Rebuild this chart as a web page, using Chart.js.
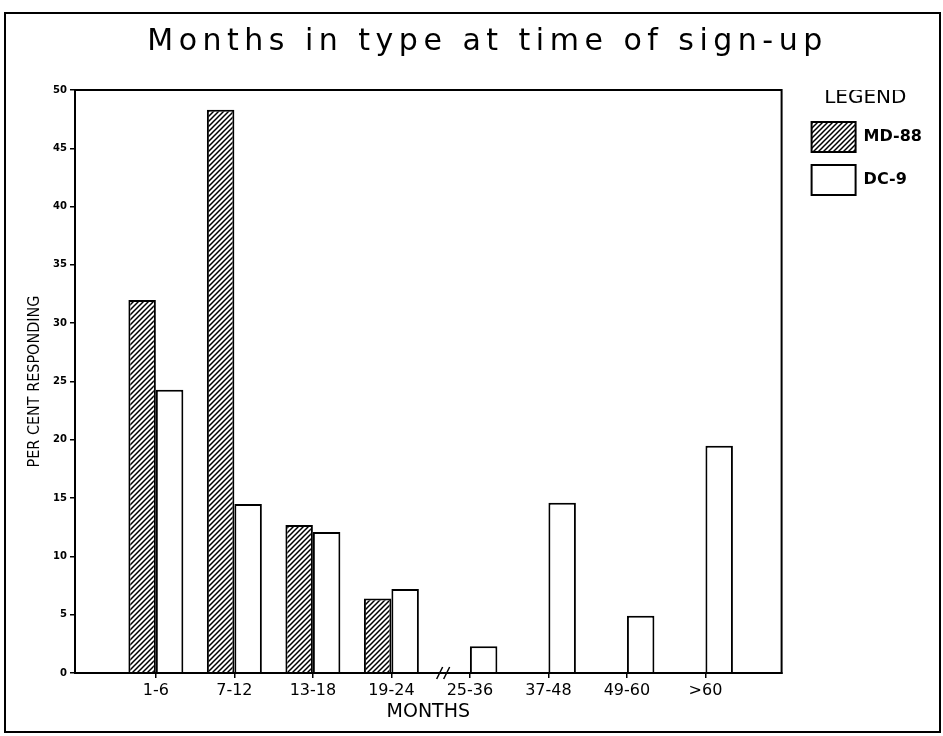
<!DOCTYPE html>
<html>
<head>
<meta charset="utf-8">
<script src="https://cdn.jsdelivr.net/npm/chart.js@4.4.1/dist/chart.umd.min.js"></script>
<style>
  html, body { margin: 0; padding: 0; background: #fff; }
</style>
</head>
<body>
<canvas id="monthsChart" width="943" height="736"></canvas>
<script>
// values (per cent responding)
const months = ['1-6', '7-12', '13-18', '19-24', '25-36', '37-48', '49-60', '>60'];
const md88 = [32.0, 48.3, 12.7, 6.4, 0, 0, 0, 0];
const dc9 = [24.3, 14.5, 12.1, 7.2, 2.3, 14.6, 4.9, 19.5];
const yTicks = [0, 5, 10, 15, 20, 25, 30, 35, 40, 45, 50];

// diagonal hatch for the MD-88 bars
function makeHatch() {
    const c = document.createElement('canvas');
    c.width = 5; c.height = 5;
    const g = c.getContext('2d');
    g.fillStyle = '#fff';
    g.fillRect(0, 0, 5, 5);
    g.strokeStyle = '#000';
    g.lineWidth = 1.5;
    g.beginPath();
    g.moveTo(-1, 6); g.lineTo(6, -1);
    g.moveTo(-3, 3); g.lineTo(3, -3);
    g.moveTo(2, 8); g.lineTo(8, 2);
    g.stroke();
    return g.createPattern(c, 'repeat');
}

const tweaks = {
    id: 'tweaks',
    beforeLayout(chart) {
        // wide letter spacing of the old plotter title
        const tb = chart.titleBlock;
        if (tb && !tb._spaced) {
            const draw = tb.draw.bind(tb);
            tb.draw = function () {
                this.ctx.save();
                this.ctx.letterSpacing = '5.5px';
                draw();
                this.ctx.restore();
            };
            tb._spaced = true;
        }
    },
    afterLayout(chart) {
        // title is centred a little right of the page middle, legend right of the frame
        chart.titleBlock.left += 30;
        chart.titleBlock.right += 30;
        chart.legend.left += 17;
        chart.legend.right += 17;
    },
    afterDraw(chart) {
        const { ctx, chartArea: a } = chart;
        ctx.save();
        ctx.strokeStyle = '#000';
        ctx.lineWidth = 2;
        ctx.strokeRect(a.left, a.top, a.right - a.left, a.bottom - a.top);
        ctx.strokeRect(5, 13, 935, 719);
        // axis break between 19-24 and 25-36
        const x = chart.scales.x.getPixelForValue(3.5) + 15;
        const y = a.bottom;
        ctx.lineWidth = 1.5;
        ctx.beginPath();
        ctx.moveTo(x - 9, y + 6); ctx.lineTo(x - 3, y - 6);
        ctx.moveTo(x - 2, y + 6); ctx.lineTo(x + 4, y - 6);
        ctx.stroke();
        ctx.restore();
    }
};

const ctx = document.getElementById('monthsChart').getContext('2d');
const monthsChart = new Chart(ctx, {
    type: 'bar',
    data: {
        datasets: [{
            label: 'MD-88',
            data: months.map((m, i) => ({ x: i, y: md88[i] })),
            backgroundColor: makeHatch(),
            borderColor: '#000',
            borderWidth: 2,
        }, {
            label: 'DC-9',
            data: months.map((m, i) => ({ x: i, y: dc9[i] })),
            backgroundColor: '#fff',
            borderColor: '#000',
            borderWidth: 2,
        }]
    },
    options: {
        responsive: false,
        animation: false,
        categoryPercentage: 0.7,
        barPercentage: 1,
        layout: { padding: { left: 0, right: 28, top: 0, bottom: 0 } },
        plugins: {
            tooltip: { enabled: false },
            title: {
                display: true,
                text: 'Months in type at time of sign-up',
                color: '#000',
                font: { family: 'DejaVu Sans', size: 30, weight: 'normal' },
                padding: { top: 24, bottom: 30 }
            },
            legend: {
                position: 'right',
                align: 'start',
                fullSize: false,
                title: {
                    display: true,
                    text: 'LEGEND',
                    color: '#000',
                    position: 'center',
                    font: { family: 'DejaVu Sans', size: 20 },
                    padding: { top: -2, bottom: -3 }
                },
                labels: {
                    boxWidth: 44,
                    boxHeight: 30,
                    padding: 13,
                    color: '#000',
                    font: { family: 'DejaVu Sans', size: 16, weight: 'bold' }
                }
            }
        },
        scales: {
            x: {
                type: 'linear',
                offset: false,
                min: -1.03,
                max: 7.97,
                afterBuildTicks: s => { s.ticks = months.map((m, i) => ({ value: i })); },
                afterFit: s => { s.height = 63; },
                ticks: {
                    callback: v => months[v],
                    color: '#000',
                    autoSkip: false,
                    maxRotation: 0,
                    padding: 3,
                    font: { family: 'DejaVu Sans', size: 16 }
                },
                grid: { offset: false, drawOnChartArea: false, tickLength: 5, color: '#000', lineWidth: 1.5 },
                border: { color: '#000', width: 2 },
                title: {
                    display: true,
                    text: 'MONTHS',
                    color: '#000',
                    font: { family: 'DejaVu Sans', size: 19 },
                    padding: { top: 0, bottom: 13 }
                }
            },
            y: {
                min: 0,
                max: 50,
                afterBuildTicks: s => { s.ticks = yTicks.map(v => ({ value: v })); },
                afterFit: s => { s.width = 75; },
                ticks: {
                    color: '#000',
                    padding: 3,
                    font: { family: 'DejaVu Sans', size: 10, weight: 'bold' }
                },
                grid: { drawOnChartArea: false, tickLength: 5, color: '#000', lineWidth: 1.5 },
                border: { color: '#000', width: 2 },
                title: {
                    display: true,
                    text: 'PER CENT RESPONDING',
                    color: '#000',
                    font: { family: "'Liberation Sans Narrow', 'DejaVu Sans Condensed', 'Liberation Sans'", size: 16 },
                    padding: { top: 25, bottom: 0 }
                }
            }
        }
    },
    plugins: [tweaks]
});
</script>
</body>
</html>
